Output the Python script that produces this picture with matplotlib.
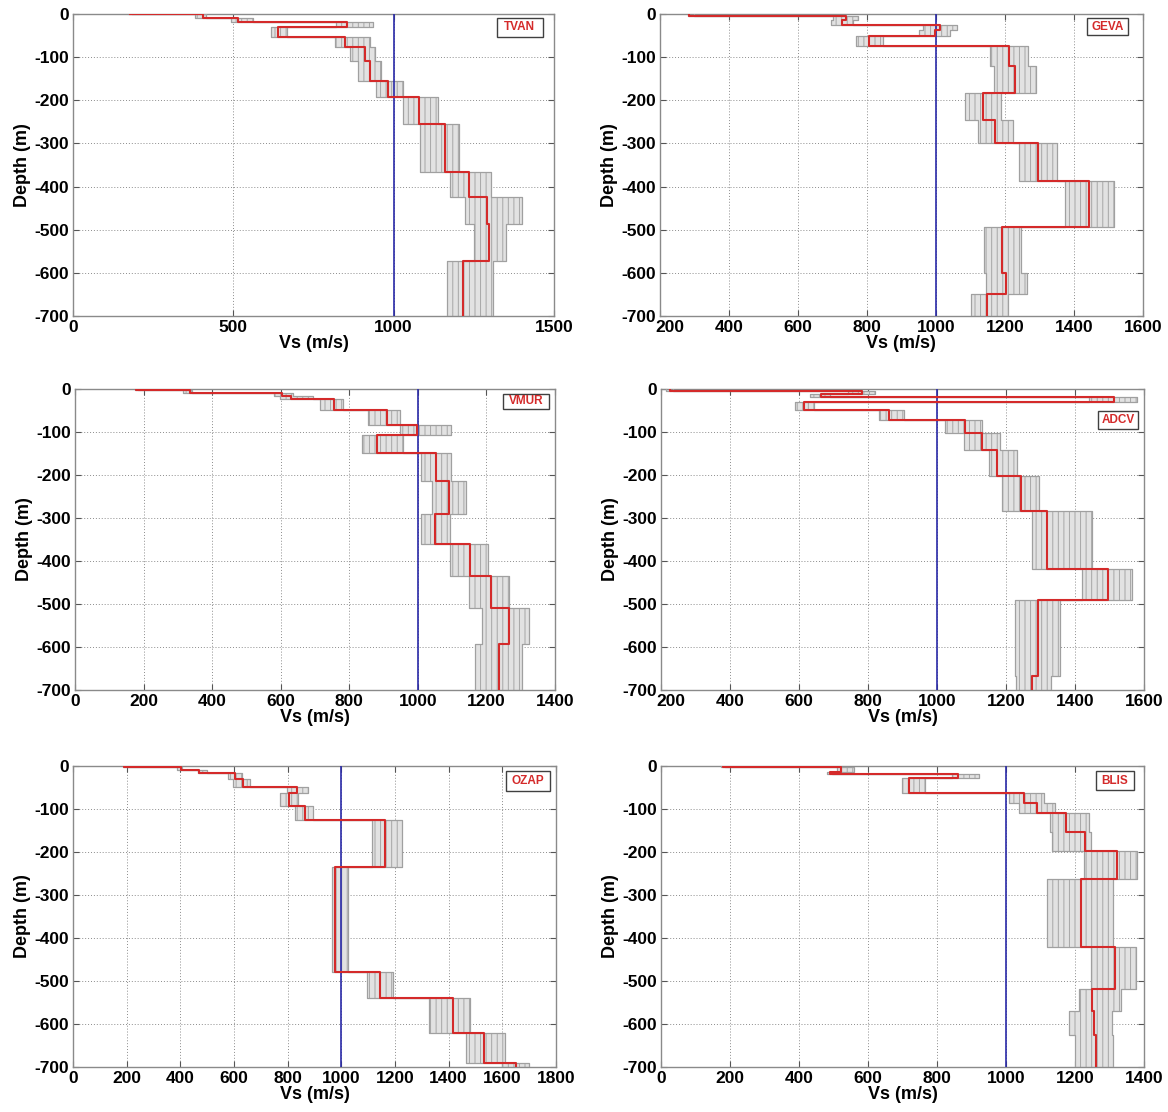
import numpy as np
import matplotlib.pyplot as plt
from matplotlib.patches import Rectangle
from matplotlib.transforms import ScaledTranslation

plt.rcParams['font.family'] = ['Liberation Sans', 'DejaVu Sans']
plt.rcParams['font.weight'] = 'bold'
plt.rcParams['axes.unicode_minus'] = False
plt.rcParams['hatch.linewidth'] = 0.7

# layer tops (m, positive down), best Vs (red) and spread of the grey ensemble
tvan_depth = [0, 1, 10, 19, 29, 53, 76, 109, 155, 192, 256, 367, 425, 486, 573, 700]
tvan_vs = [178, 404, 515, 855, 640, 847, 910, 925, 982, 1079, 1159, 1235, 1290, 1296, 1215]
tvan_lo = [175, 380, 494, 821, 616, 816, 863, 889, 944, 1029, 1083, 1176, 1223, 1252, 1165]
tvan_hi = [185, 416, 562, 935, 666, 925, 941, 962, 1029, 1138, 1205, 1305, 1400, 1351, 1310]

geva_depth = [0, 4, 13, 25, 36, 52, 75, 121, 183, 245, 299, 388, 493, 600, 650, 700]
geva_vs = [285, 739, 728, 1013, 998, 807, 1213, 1229, 1137, 1171, 1297, 1445, 1191, 1204, 1149]
geva_lo = [280, 702, 697, 963, 952, 768, 1157, 1168, 1084, 1123, 1240, 1375, 1138, 1145, 1102]
geva_hi = [300, 775, 760, 1060, 1040, 847, 1268, 1290, 1190, 1224, 1350, 1515, 1247, 1263, 1210]

vmur_depth = [0, 2, 9, 16, 24, 48, 84, 108, 148, 213, 290, 361, 435, 509, 592, 700]
vmur_vs = [179, 334, 603, 630, 755, 909, 998, 882, 1052, 1092, 1049, 1152, 1214, 1267, 1238]
vmur_lo = [175, 316, 579, 598, 715, 855, 948, 836, 1010, 1040, 1008, 1095, 1150, 1188, 1166]
vmur_hi = [185, 341, 637, 695, 783, 948, 1098, 957, 1098, 1139, 1095, 1205, 1265, 1325, 1303]

adcv_depth = [0, 4, 12, 19, 31, 49, 72, 103, 142, 202, 283, 419, 490, 667, 700]
adcv_vs = [226, 782, 664, 1512, 613, 862, 1080, 1130, 1174, 1242, 1319, 1495, 1292, 1274]
adcv_lo = [215, 743, 632, 1440, 589, 833, 1024, 1077, 1150, 1188, 1275, 1420, 1225, 1230]
adcv_hi = [235, 821, 690, 1580, 642, 903, 1130, 1182, 1232, 1295, 1450, 1565, 1355, 1330]

ozap_depth = [0, 2, 9, 17, 30, 48, 64, 93, 126, 235, 480, 540, 620, 690, 700]
ozap_vs = [191, 401, 471, 604, 632, 834, 806, 865, 1163, 976, 1144, 1415, 1533, 1650]
ozap_lo = [185, 386, 467, 579, 598, 796, 771, 827, 1113, 964, 1096, 1325, 1464, 1600]
ozap_hi = [200, 405, 498, 629, 660, 877, 840, 896, 1225, 1026, 1194, 1478, 1610, 1700]

blis_depth = [0, 3, 13, 19, 29, 64, 87, 109, 153, 197, 263, 420, 518, 570, 625, 700]
blis_vs = [179, 521, 490, 862, 718, 1051, 1090, 1175, 1228, 1322, 1216, 1317, 1249, 1256, 1262]
blis_lo = [175, 510, 480, 843, 698, 1008, 1037, 1128, 1133, 1225, 1120, 1247, 1210, 1183, 1199]
blis_hi = [185, 558, 495, 921, 766, 1109, 1143, 1240, 1245, 1380, 1310, 1376, 1333, 1306, 1311]

stations = ['TVAN', 'GEVA', 'VMUR', 'ADCV', 'OZAP', 'BLIS']
depth_ticks = [0, -100, -200, -300, -400, -500, -600, -700]


def steps(depth, v):
    """Turn layer tops + velocities into a staircase (x, y)."""
    y = -np.repeat(np.asarray(depth, float), 2)[1:-1]
    x = np.repeat(np.asarray(v, float), 2)
    return x, y


panels = [
    # data, axes rect, xlim, xticks, label box (x0, y0, x1, y1 in axes fraction)
    ((tvan_depth, tvan_vs, tvan_lo, tvan_hi), [0.0625, 0.7158, 0.4118, 0.2716],
     (0, 1500), [0, 500, 1000, 1500], (0.881, 0.924, 0.977, 0.987)),
    ((geva_depth, geva_vs, geva_lo, geva_hi), [0.565, 0.7158, 0.4135, 0.2716],
     (200, 1600), list(range(200, 1601, 200)), (0.884, 0.930, 0.969, 0.987)),
    ((vmur_depth, vmur_vs, vmur_lo, vmur_hi), [0.0642, 0.3795, 0.411, 0.2707],
     (0, 1400), list(range(0, 1401, 200)), (0.892, 0.934, 0.988, 0.983)),
    ((adcv_depth, adcv_vs, adcv_lo, adcv_hi), [0.566, 0.3795, 0.4135, 0.2707],
     (200, 1600), list(range(200, 1601, 200)), (0.905, 0.867, 0.988, 0.927)),
    ((ozap_depth, ozap_vs, ozap_lo, ozap_hi), [0.0625, 0.0405, 0.4135, 0.2707],
     (0, 1800), list(range(0, 1801, 200)), (0.896, 0.917, 0.987, 0.983)),
    ((blis_depth, blis_vs, blis_lo, blis_hi), [0.566, 0.0405, 0.4135, 0.2707],
     (0, 1400), list(range(0, 1401, 200)), (0.900, 0.920, 0.979, 0.983)),
]

fig = plt.figure(figsize=(11.68, 11.12), dpi=100)

for name, (data, rect, xlim, xticks, box) in zip(stations, panels):
    depth, vs, lo, hi = data
    ax = fig.add_axes(rect)

    # grey ensemble spread
    xl, y = steps(depth, lo)
    xh, _ = steps(depth, hi)
    ax.fill_betweenx(y, xl, xh, facecolor='#e2e2e2', edgecolor='#a6a6a6',
                     hatch='|||', linewidth=0, zorder=2)
    ax.plot(xl, y, color='#a0a0a0', lw=0.9, zorder=3)
    ax.plot(xh, y, color='#a0a0a0', lw=0.9, zorder=3)

    # best model
    xr, yr = steps(depth, vs)
    ax.plot(xr, yr, color='#d42a2a', lw=1.5, zorder=5)

    ax.axvline(1000, color='#2a2aa8', lw=1.2, zorder=4)

    ax.set_xlim(*xlim)
    ax.set_ylim(-700, 0)
    ax.set_xticks(xticks)
    ax.set_yticks(depth_ticks)
    ax.grid(True, color='#8c8c8c', linestyle=(0, (1, 2)), lw=0.7)
    ax.set_axisbelow(True)
    ax.tick_params(direction='in', top=True, right=True, length=4,
                   labelsize=12.5, pad=3, color='#555555')
    for s in ax.spines.values():
        s.set_color('#8a8a8a')
        s.set_linewidth(1.0)

    # first Vs label sits a little right of the corner, as in the source
    if xlim[0] > 0:
        first = ax.get_xticklabels()[0]
        first.set_transform(first.get_transform() +
                            ScaledTranslation(10 / 100, 0, fig.dpi_scale_trans))

    ax.set_xlabel('Vs (m/s)', fontsize=13, fontweight='bold', labelpad=0)
    ax.set_ylabel('Depth (m)', fontsize=13, fontweight='bold', labelpad=2)

    x0, y0, x1, y1 = box
    ax.add_patch(Rectangle((x0, y0), x1 - x0, y1 - y0, transform=ax.transAxes,
                           facecolor='white', edgecolor='#404040', lw=1.0, zorder=6))
    ax.text((x0 + x1) / 2, (y0 + y1) / 2, name, transform=ax.transAxes,
            ha='center', va='center', color='#d42a2a', fontsize=8.5,
            fontweight='bold', zorder=7)

fig.savefig('out.png', dpi=100)
